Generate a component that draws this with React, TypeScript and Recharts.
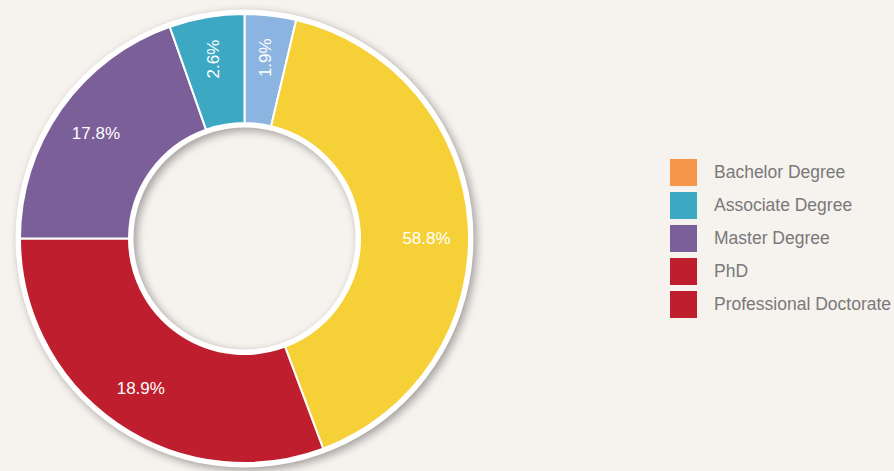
import { PieChart, Pie, Cell, Legend } from "recharts";

// Donut of degree shares.
// Slice sizes are what the ring shows; the printed labels are kept as-is.

const sliceNames = ["Slice A", "Slice B", "Slice C", "Slice D", "Slice E"];
const sliceValues = [3.7, 40.6, 30.7, 19.6, 5.4];
const sliceLabels = ["1.9%", "58.8%", "18.9%", "17.8%", "2.6%"];
const sliceColors = ["#8cb4e1", "#f5d037", "#be1e2d", "#7b5f99", "#3da8c2"];

const legendNames = [
  "Bachelor Degree",
  "Associate Degree",
  "Master Degree",
  "PhD",
  "Professional Doctorate",
];
const legendColors = ["#f7964a", "#3da8c2", "#7b5f99", "#be1e2d", "#be1e2d"];

const ringData = [{ name: "ring", value: 1 }];

const BG = "#f6f2ee";
const RADIAN = Math.PI / 180;
const CX = 244.5;
const CY = 238.5;

function renderLabel(props: any) {
  const { cx, cy, midAngle, index, percent } = props;
  const r = 182;
  // big slice label sits level with the centre, like the original
  const ang = percent > 0.35 ? Math.round(midAngle / 90) * 90 : midAngle;
  const x = cx + r * Math.cos(-ang * RADIAN);
  const y = cy + r * Math.sin(-ang * RADIAN);
  const small = percent < 0.1;
  return (
    <text
      key={`lbl-${index}`}
      x={x}
      y={y}
      fill="#ffffff"
      fontSize={17}
      fontFamily="'Liberation Sans', Arial, sans-serif"
      textAnchor="middle"
      dominantBaseline="central"
      transform={small ? `rotate(-90, ${x}, ${y})` : undefined}
    >
      {sliceLabels[index]}
    </text>
  );
}

function LegendBox() {
  return (
    <div style={{ display: "flex", flexDirection: "column", gap: 6 }}>
      {legendNames.map((n, i) => (
        <div key={n} style={{ display: "flex", alignItems: "center", height: 27 }}>
          <div style={{ width: 27, height: 27, background: legendColors[i], flexShrink: 0 }} />
          <span
            style={{
              marginLeft: 17,
              fontSize: 17.5,
              color: "#797979",
              fontFamily: "'Liberation Sans', Arial, sans-serif",
              whiteSpace: "nowrap",
            }}
          >
            {n}
          </span>
        </div>
      ))}
    </div>
  );
}

export default function App() {
  const data = sliceNames.map((name, i) => ({ name, value: sliceValues[i] }));
  return (
    <div style={{ width: 894, height: 471, background: BG, overflow: "hidden" }}>
      <style>{`
        body { margin: 0; background: ${BG}; }
        .donut-ring .recharts-sector { filter: drop-shadow(3px 3px 4px rgba(0,0,0,0.35)); }
      `}</style>
      <PieChart width={894} height={471} margin={{ top: 0, right: 0, bottom: 0, left: 0 }}>
        <Pie
          className="donut-ring"
          data={ringData}
          dataKey="value"
          cx={CX}
          cy={CY}
          innerRadius={111}
          outerRadius={229}
          startAngle={90}
          endAngle={-270}
          fill="#ffffff"
          stroke="none"
          isAnimationActive={false}
        />
        <Pie
          data={data}
          dataKey="value"
          cx={CX}
          cy={CY}
          innerRadius={115.5}
          outerRadius={224.5}
          startAngle={90}
          endAngle={-270}
          stroke="#ffffff"
          strokeWidth={2}
          label={renderLabel}
          labelLine={false}
          isAnimationActive={false}
        >
          {data.map((d, i) => (
            <Cell key={d.name} fill={sliceColors[i]} />
          ))}
        </Pie>
        <Legend
          content={() => <LegendBox />}
          wrapperStyle={{ position: "absolute", left: 670, top: 159, width: 224 }}
        />
      </PieChart>
    </div>
  );
}
